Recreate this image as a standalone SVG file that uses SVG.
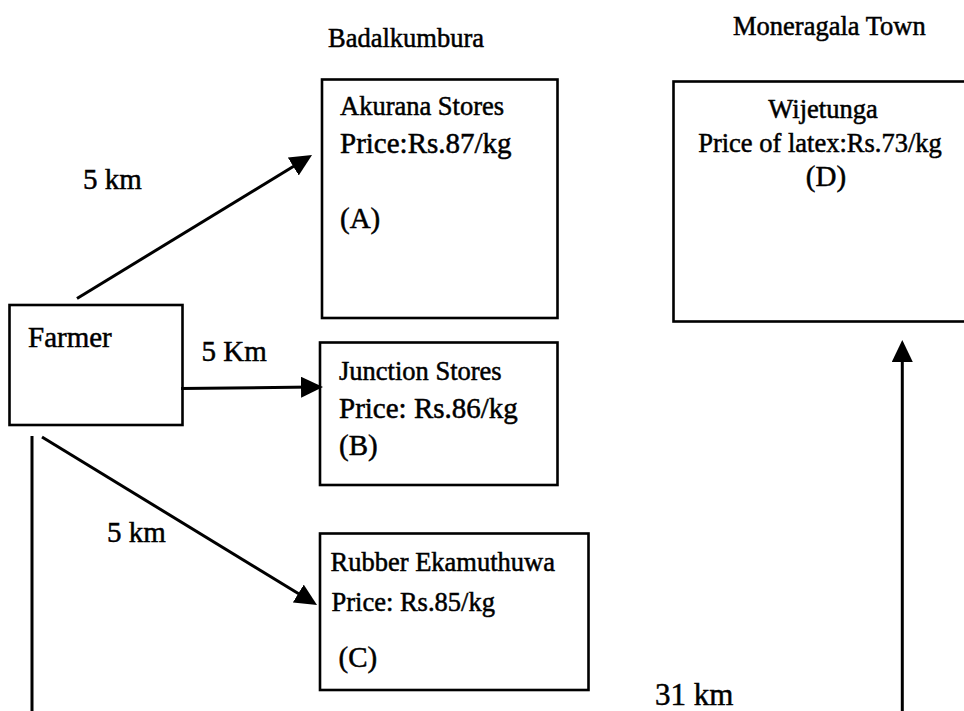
<svg xmlns="http://www.w3.org/2000/svg" width="964" height="711" viewBox="0 0 964 711">
<style>
text{font-family:"Liberation Serif","Times New Roman",serif;fill:#000;stroke:#000;stroke-width:0.5}
.box{fill:none;stroke:#000;stroke-width:2.6}
.conn{fill:none;stroke:#000;stroke-width:3}
.arr{marker-end:url(#ah)}
.h{font-size:26.5px}
.n{font-size:26.5px}
.p{font-size:29px}
.l{font-size:29px}
</style>
<defs>
<marker id="ah" markerUnits="userSpaceOnUse" markerWidth="24" markerHeight="22" refX="12" refY="10.5" orient="auto" viewBox="0 0 24 22">
<path d="M0,0 L22,10.5 L0,21 z" fill="#000"/>
</marker>
</defs>
<rect width="964" height="711" fill="#fff"/>
<g id="headers">
<text class="h" x="328" y="47">Badalkumbura</text>
<text class="h" x="733" y="35">Moneragala Town</text>
</g>
<g id="farmer">
<rect class="box" x="9.5" y="305" width="173" height="120"/>
<text class="l" x="28" y="347">Farmer</text>
</g>
<g id="nodeA">
<rect class="box" x="322" y="79.5" width="235.5" height="238.5"/>
<text class="n" x="340" y="115">Akurana Stores</text>
<text class="p" x="340" y="153">Price:Rs.87/kg</text>
<text class="p" x="340" y="228">(A)</text>
</g>
<g id="nodeB">
<rect class="box" x="320" y="342.5" width="237.5" height="142.5"/>
<text class="n" x="339" y="380">Junction Stores</text>
<text class="p" x="339" y="417.5">Price: Rs.86/kg</text>
<text class="p" x="339" y="455">(B)</text>
</g>
<g id="nodeC">
<rect class="box" x="320" y="533.5" width="268.5" height="156.5"/>
<text class="n" x="330.5" y="570.5">Rubber Ekamuthuwa</text>
<text class="n" x="331.5" y="610.5">Price: Rs.85/kg</text>
<text class="p" x="338.5" y="667">(C)</text>
</g>
<g id="nodeD">
<rect class="box" x="673.5" y="81.5" width="293" height="240"/>
<text class="n" x="823" y="117.5" text-anchor="middle">Wijetunga</text>
<text class="n" x="820" y="151.5" text-anchor="middle">Price of latex:Rs.73/kg</text>
<text class="p" x="826" y="186" text-anchor="middle">(D)</text>
</g>
<g id="connectors">
<line class="conn arr" x1="77" y1="298.5" x2="303.5" y2="160.2"/>
<line class="conn arr" x1="181" y1="388.5" x2="313" y2="387"/>
<line class="conn arr" x1="42" y1="437" x2="308.5" y2="599.8"/>
<line class="conn arr" x1="902.3" y1="711" x2="902.3" y2="350"/>
<line class="conn" x1="32" y1="436" x2="32" y2="711"/>
</g>
<g id="labels">
<text class="l" x="83" y="189">5 km</text>
<text class="l" x="201.5" y="360.5">5 Km</text>
<text class="l" x="107" y="541.5">5 km</text>
<text class="l" x="655" y="705" style="font-size:31px">31 km</text>
</g>
</svg>
